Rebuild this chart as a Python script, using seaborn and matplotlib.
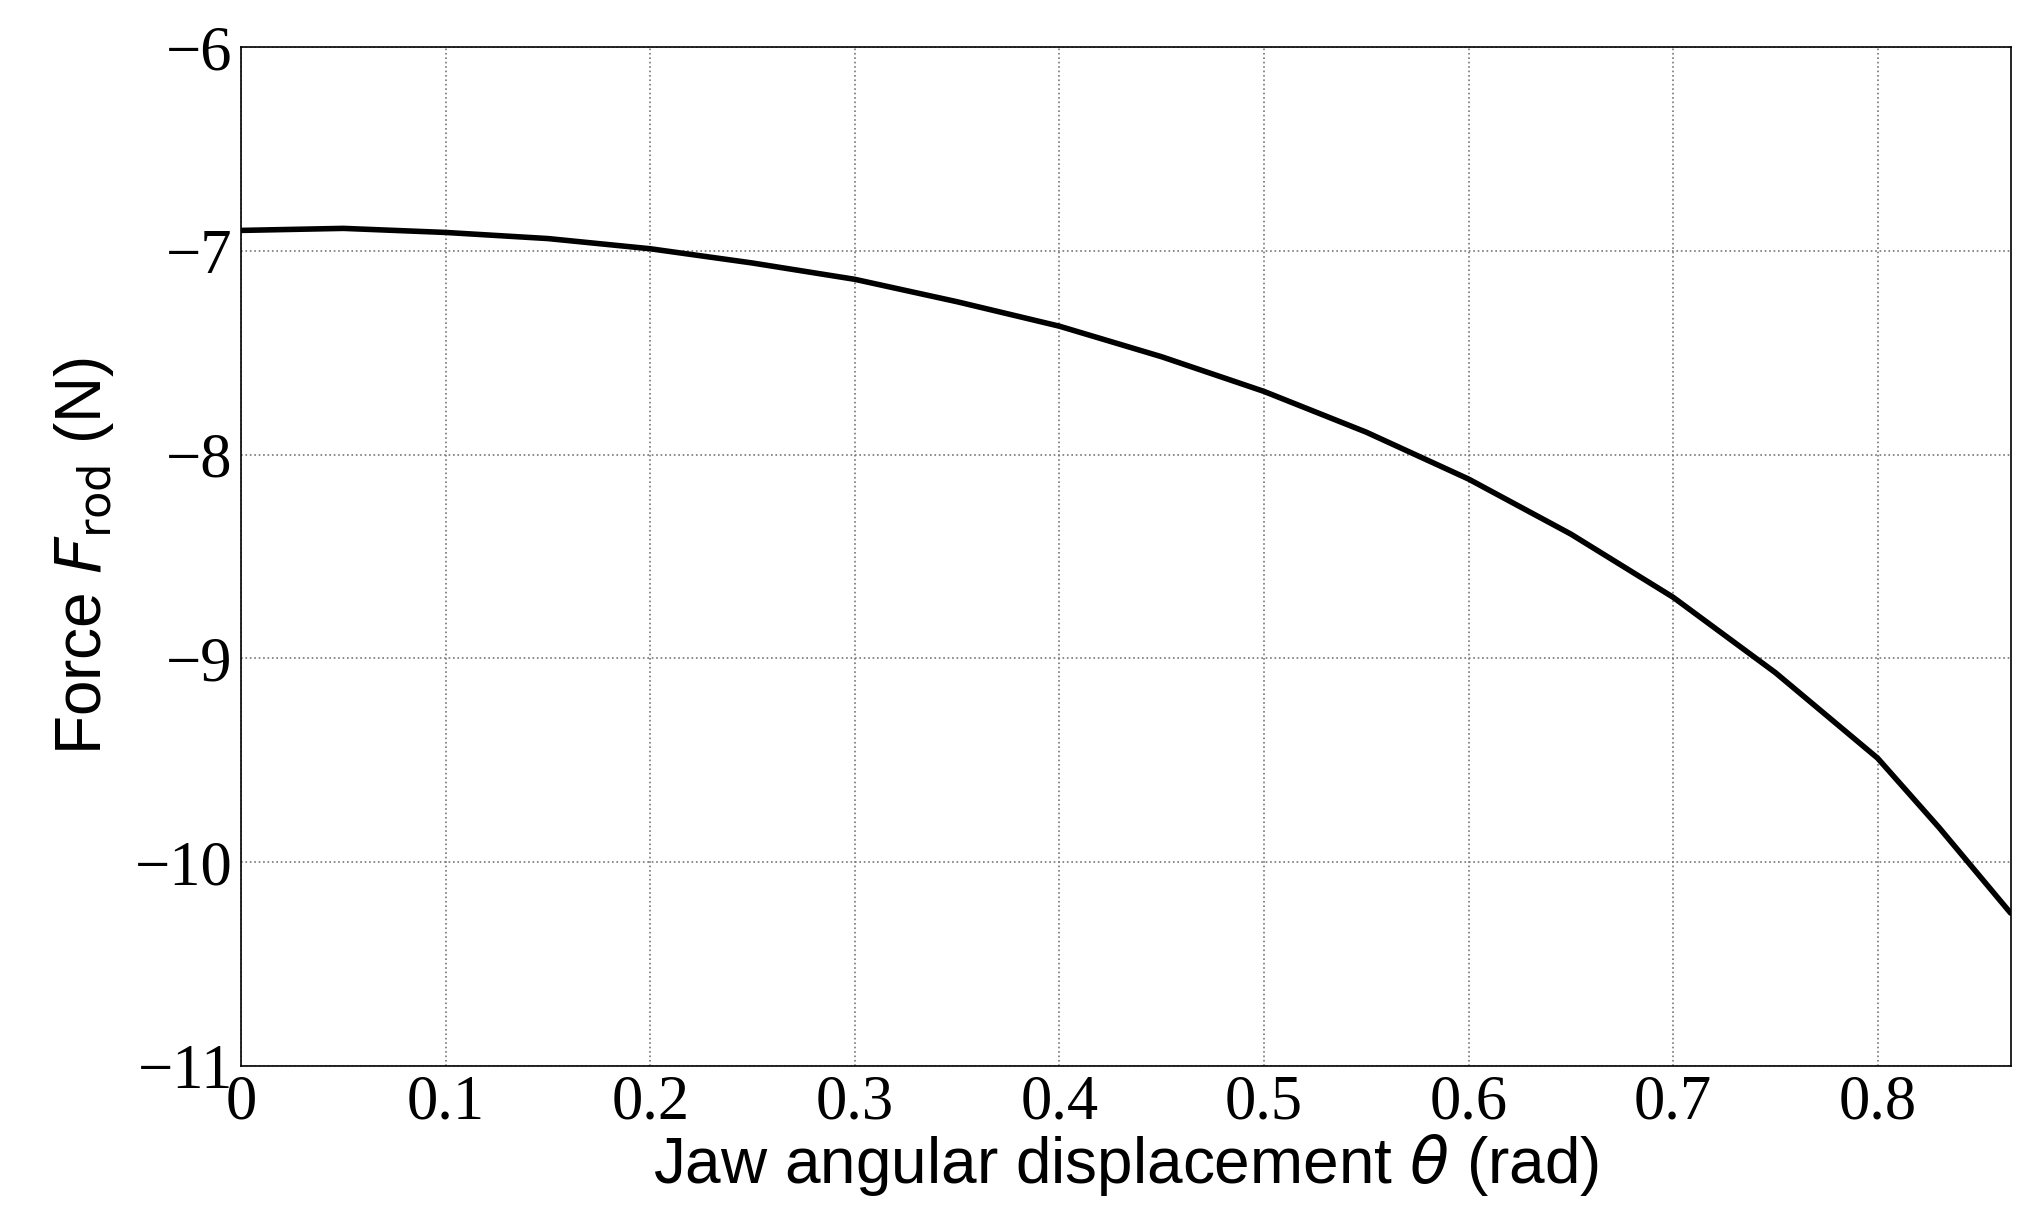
import matplotlib
matplotlib.use("Agg")
import matplotlib.pyplot as plt
import seaborn as sns
import pandas as pd

theta = [0.0, 0.05, 0.1, 0.15, 0.2, 0.25, 0.3, 0.35, 0.4, 0.45, 0.5, 0.55, 0.6, 0.65, 0.7, 0.75, 0.8, 0.83, 0.865]
force = [-6.90, -6.89, -6.91, -6.94, -6.99, -7.06, -7.14, -7.25, -7.37, -7.52, -7.69, -7.89, -8.12, -8.39, -8.70, -9.07, -9.49, -9.83, -10.25]
xticks = [0, 0.1, 0.2, 0.3, 0.4, 0.5, 0.6, 0.7, 0.8]
yticks = [-11, -10, -9, -8, -7, -6]

sns.set_style("white")
plt.rcParams["text.color"] = "black"
plt.rcParams["axes.labelcolor"] = "black"
plt.rcParams["xtick.color"] = "black"
plt.rcParams["ytick.color"] = "black"
df = pd.DataFrame({"theta": theta, "force": force})
fig = plt.figure(figsize=(20.33, 12.21), dpi=100)
ax = fig.add_axes([0.1186, 0.127, 0.8704, 0.8345])
sns.lineplot(data=df, x="theta", y="force", ax=ax, color="black", linewidth=4)
ax.set_xlim(0, 0.865)
ax.set_ylim(-11, -6)
ax.set_xticks(xticks)
ax.set_xticklabels([f"{v:g}" for v in xticks])
ax.set_yticks(yticks)
ax.set_yticklabels([f"\u2212{abs(v)}" for v in yticks])
for lab in ax.get_xticklabels() + ax.get_yticklabels():
    lab.set_fontfamily("Liberation Serif")
    lab.set_fontsize(45)
    lab.set_color("black")
ax.tick_params(direction="in", length=8, color="black", pad=6)
ax.grid(True, linestyle=":", color="#777777", linewidth=1.2)
for s in ax.spines.values():
    s.set_color("black"); s.set_linewidth(1.2)
ax.set_xlabel(r"Jaw angular displacement $\theta$ (rad)", fontfamily="Liberation Sans", fontsize=46, labelpad=0, color="black")
ax.set_ylabel(r"Force $F_{\mathrm{rod}}$ (N)", fontfamily="Liberation Sans", fontsize=46, labelpad=14, color="black")
fig.savefig("out.png", dpi=100)
